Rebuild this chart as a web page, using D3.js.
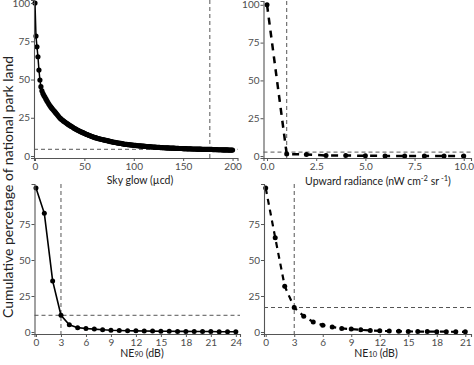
<!DOCTYPE html>
<html><head><meta charset="utf-8">
<script src="https://cdn.jsdelivr.net/npm/d3@7"></script>
<style>
html,body{margin:0;padding:0;background:#fff;}
svg{display:block;font-family:Lato,sans-serif;}
</style></head>
<body><svg id="c" width="474" height="365"></svg>
<script>
// ---- data ----
const skyGlowX = d3.range(0, 201);
const skyGlowY = [100,78.4,71.4,64.9,56.2,49.7,45.3,42.6,40.9,39.6,38.5,
37.3,36.2,35.1,34.0,33.0,32.1,31.3,30.5,29.7,29.0,
28.2,27.4,26.6,25.8,25.0,24.4,23.8,23.3,22.8,22.4,
21.9,21.4,21.0,20.5,20.1,19.7,19.3,18.9,18.4,18.0,
17.7,17.3,17.0,16.6,16.3,16.0,15.7,15.4,15.1,14.8,
14.5,14.2,14.0,13.7,13.4,13.2,12.9,12.7,12.4,12.2,
12.0,11.8,11.6,11.4,11.3,11.1,10.9,10.8,10.6,10.5,
10.3,10.2,10.0,9.9,9.7,9.6,9.4,9.3,9.1,9.0,
8.9,8.8,8.6,8.5,8.4,8.3,8.2,8.1,7.9,7.8,
7.7,7.6,7.6,7.5,7.4,7.3,7.3,7.2,7.1,7.0,
6.9,6.9,6.8,6.7,6.7,6.6,6.6,6.5,6.4,6.4,
6.3,6.3,6.2,6.2,6.1,6.1,6.0,6.0,5.9,5.9,
5.8,5.8,5.7,5.7,5.6,5.6,5.5,5.5,5.5,5.4,
5.4,5.4,5.3,5.3,5.3,5.2,5.2,5.2,5.1,5.1,
5.1,5.0,5.0,5.0,5.0,4.9,4.9,4.9,4.9,4.8,
4.8,4.8,4.8,4.7,4.7,4.7,4.7,4.7,4.6,4.6,
4.6,4.6,4.6,4.5,4.5,4.5,4.5,4.5,4.4,4.4,
4.4,4.4,4.4,4.4,4.3,4.3,4.3,4.3,4.3,4.2,
4.2,4.2,4.2,4.2,4.1,4.1,4.1,4.1,4.1,4.0,
4.0,4.0,4.0,4.0,4.0,3.9,3.9,3.9,3.9,3.9];
const skyGlowRef = {x: 177, y: 4.4};

const radianceX = [0,1,2,3,4,5,6,7,8,9,10];
const radianceY = [100,1.3,1.0,0.4,0.3,0.2,0.1,0.1,0.1,0.1,0.1];
const radianceRef = {x: 1.0, y: 2.6};

const ne90X = d3.range(0, 25);
const ne90Y = [100,82.4,35.5,11.6,5.0,3.0,2.4,2.0,1.6,1.2,1.0,0.9,0.8,0.7,0.6,0.5,0.5,0.4,0.4,0.3,0.3,0.3,0.2,0.2,0.2];
const ne90Ref = {x: 3, y: 11.6};

const ne10X = d3.range(0, 22);
const ne10Y = [100,65.5,31.8,17.0,11.0,7.0,4.7,3.5,2.5,2.0,1.5,1.0,0.8,0.6,0.5,0.4,0.3,0.3,0.2,0.2,0.1,0.1];
const ne10Ref = {x: 3, y: 17.0};

const skyTicks = [0,50,100,150,200];
const radTicks = [0,2.5,5,7.5,10];
const ne90Ticks = [0,3,6,9,12,15,18,21,24];
const ne10Ticks = [0,3,6,9,12,15,18,21];
const topYTicks = [0,25,50,75,100];
const botYTicks = [0,25,50,75];

const yTitle = "Cumulative percetage of national park land";

// ---- drawing ----
const svg = d3.select("#c");

function panel(cfg){
  const g = svg.append("g");
  const x = d3.scaleLinear().domain(cfg.xd).range(cfg.xr);
  const y = d3.scaleLinear().domain(cfg.yd).range(cfg.yr);
  const data = cfg.xs.map((v,i)=>({x:v,y:cfg.ys[i]}));
  // reference lines
  g.append("line").attr("x1", x(cfg.ref.x)).attr("x2", x(cfg.ref.x))
    .attr("y1", cfg.yr[1]).attr("y2", cfg.yr[0])
    .attr("stroke","#555").attr("stroke-width",1).attr("stroke-dasharray","4,3");
  g.append("line").attr("x1", cfg.xr[0]).attr("x2", cfg.xr[1])
    .attr("y1", y(cfg.ref.y)).attr("y2", y(cfg.ref.y))
    .attr("stroke","#555").attr("stroke-width",1).attr("stroke-dasharray","4,3");
  // series
  g.append("path").datum(data)
    .attr("fill","none").attr("stroke","#000")
    .attr("stroke-width", cfg.lw)
    .attr("stroke-dasharray", cfg.dash || null)
    .attr("d", d3.line().x(d=>x(d.x)).y(d=>y(d.y)));
  g.selectAll("circle.pt").data(data).join("circle")
    .attr("class","pt")
    .attr("cx", d=>x(d.x)).attr("cy", d=>y(d.y)).attr("r", cfg.r).attr("fill","#000");
  // axes
  const ax = g.append("g").attr("transform",`translate(0,${cfg.yr[0]})`)
    .call(d3.axisBottom(x).tickValues(cfg.xt).tickFormat(cfg.xf).tickSizeOuter(0).tickSize(3).tickPadding(1.5));
  const ay = g.append("g").attr("transform",`translate(${cfg.xr[0]},0)`)
    .call(d3.axisLeft(y).tickValues(cfg.yt).tickFormat(d3.format("d")).tickSizeOuter(0).tickSize(3).tickPadding(1));
  [ax, ay].forEach(a=>{
    a.select(".domain").attr("stroke","#555").attr("stroke-width",1.1);
    a.selectAll(".tick line").attr("stroke","#555");
    a.selectAll(".tick text").attr("fill","#4d4d4d").style("font-size","10px").style("font-family","Lato,sans-serif");
  });
  // x title
  const t = g.append("text").attr("x", cfg.tx).attr("y", cfg.ty)
    .attr("text-anchor","middle").attr("fill","#222").style("font-size", cfg.fs || "10.5px");
  cfg.title(t);
}

panel({
  xs: skyGlowX, ys: skyGlowY, ref: skyGlowRef,
  xd: [-1, 205], xr: [34, 237.5], yd: [-1.3, 102], yr: [158, 0],
  xt: skyTicks, xf: d3.format("d"), yt: topYTicks, lw: 1.5, r: 2.6,
  tx: 140, ty: 184,
  title: t => { t.text("Sky glow (µcd)"); }
});

panel({
  xs: radianceX, ys: radianceY, ref: radianceRef,
  xd: [-0.18, 10.37], xr: [263.5, 471], yd: [-1.3, 102.5], yr: [158, 1],
  xt: radTicks, xf: d3.format(".1f"), yt: topYTicks, lw: 2.5, r: 2.5, dash: "7,6",
  tx: 378, ty: 185,
  title: t => {
    t.append("tspan").text("Upward radiance (nW cm");
    t.append("tspan").attr("dy", -4).style("font-size","7.5px").text("-2");
    t.append("tspan").attr("dy", 4).text(" sr");
    t.append("tspan").attr("dy", -4).style("font-size","7.5px").text(" -1");
    t.append("tspan").attr("dy", 4).text(")");
  }
});

panel({
  xs: ne90X, ys: ne90Y, ref: ne90Ref,
  xd: [-0.18, 24.5], xr: [34.5, 240], yd: [-1.4, 102.8], yr: [334, 184],
  xt: ne90Ticks, xf: d3.format("d"), yt: botYTicks, lw: 1.6, r: 2.5,
  tx: 142, ty: 356.5,
  title: t => {
    t.append("tspan").text("NE");
    t.append("tspan").style("font-size","7.5px").text("90");
    t.append("tspan").text(" (dB)");
  }
});

panel({
  xs: ne10X, ys: ne10Y, ref: ne10Ref,
  xd: [-0.18, 21.6], xr: [264, 471], yd: [-1.4, 102.8], yr: [334, 184],
  xt: ne10Ticks, xf: d3.format("d"), yt: botYTicks, lw: 2.2, r: 2.5, dash: "6,5",
  tx: 376, ty: 356.5,
  title: t => {
    t.append("tspan").text("NE");
    t.append("tspan").style("font-size","7.5px").text("10");
    t.append("tspan").text(" (dB)");
  }
});

svg.append("text")
  .attr("transform","translate(13,187) rotate(-90)")
  .attr("text-anchor","middle").attr("fill","#222")
  .style("font-size","13.5px")
  .attr("textLength", 262).attr("lengthAdjust","spacingAndGlyphs")
  .text(yTitle);
</script></body></html>
